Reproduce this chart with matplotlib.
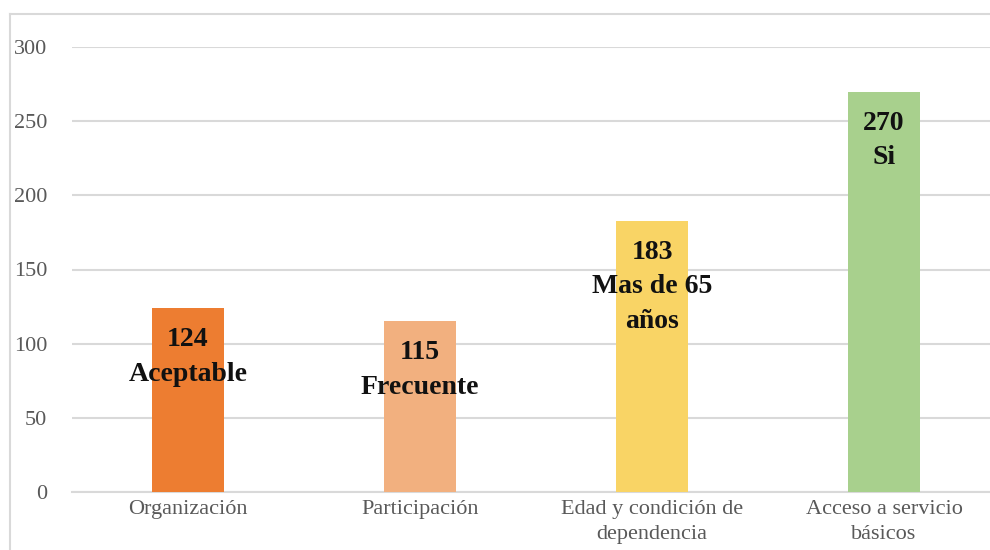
import matplotlib
matplotlib.use("Agg")
import matplotlib.pyplot as plt
from matplotlib.lines import Line2D

categories = ["Organización", "Participación", "Edad y condición de\ndependencia", "Acceso a servicio\nbásicos"]
values = [124, 115, 183, 270]
annotations = ["124\nAceptable", "115\nFrecuente", "183\nMas de 65\naños", "270\nSi"]
colors = ["#ED7D31", "#F2B07F", "#F9D465", "#A8D08D"]
yticks = [0, 50, 100, 150, 200, 250, 300]

W, H = 990, 550
fig = plt.figure(figsize=(W / 100, H / 100), dpi=100)
plt.rcParams['font.family'] = ['Liberation Serif', 'DejaVu Serif']

x0, x1 = 72, 990
y0, y1 = 492, 47
ax = fig.add_axes([x0 / W, (H - y0) / H, (x1 - x0) / W, (y0 - y1) / H])
ax.set_xlim(-0.5, -0.5 + (x1 - x0) / 232)
ax.set_ylim(0, 300)

xs = list(range(len(categories)))
ax.bar(xs, values, width=0.31, color=colors, zorder=3)

for x, v, t in zip(xs, values, annotations):
    ax.annotate(t, xy=(x, v), xytext=(0, -19), textcoords="offset pixels",
                ha="center", va="top", fontsize=20, fontweight="bold",
                color="#111111", linespacing=1.5, zorder=4)

ax.set_yticks(yticks)
ax.set_xticks(xs)
ax.set_xticklabels(categories, fontsize=16, color="#595959", linespacing=1.4)
ax.tick_params(axis="y", labelsize=16, labelcolor="#595959", length=0, pad=18)
ax.tick_params(axis="x", length=0, pad=6)
ax.grid(axis="y", color="#D9D9D9", linewidth=1.5, zorder=0)
for s in ["top", "right", "left"]:
    ax.spines[s].set_visible(False)
ax.spines["bottom"].set_color("#D9D9D9")
ax.spines["bottom"].set_linewidth(1.5)

# chart area border (left and top)
fig.add_artist(Line2D([10 / W, 10 / W], [0, (H - 14) / H], color="#D9D9D9", linewidth=1.5))
fig.add_artist(Line2D([10 / W, 1], [(H - 14) / H, (H - 14) / H], color="#D9D9D9", linewidth=1.5))

fig.savefig("out.png", dpi=100)
